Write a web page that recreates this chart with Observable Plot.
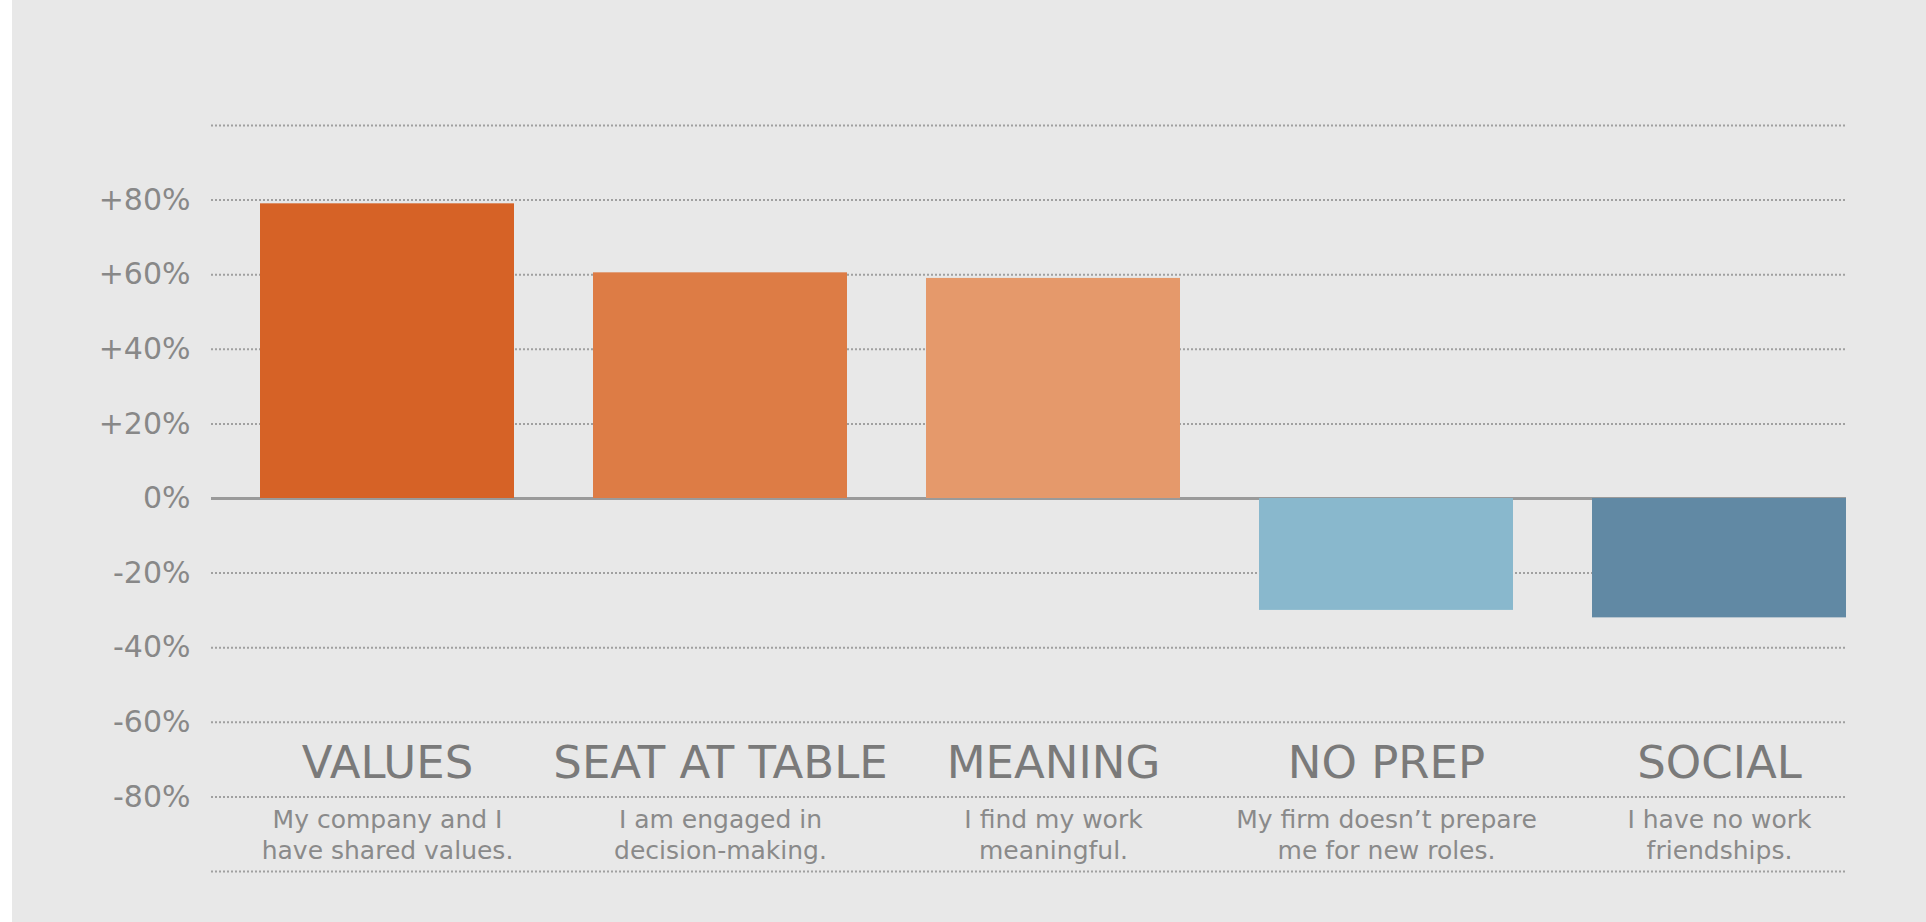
<!DOCTYPE html>
<html>
<head>
<meta charset="utf-8">
<script src="https://cdn.jsdelivr.net/npm/d3@7"></script>
<script src="https://cdn.jsdelivr.net/npm/@observablehq/plot@0.6"></script>
<style>
  html, body { margin: 0; padding: 0; background: #ffffff; }
  #wrap { border-left: 12px solid #ffffff; background: #e8e8e8; width: 1914px; height: 922px; overflow: hidden; }
  svg { display: block; }
</style>
</head>
<body>
<div id="wrap"></div>
<script>
const categories = ["VALUES", "SEAT AT TABLE", "MEANING", "NO PREP", "SOCIAL"];
const descriptions = [
  "My company and I\nhave shared values.",
  "I am engaged in\ndecision-making.",
  "I find my work\nmeaningful.",
  "My firm doesn’t prepare\nme for new roles.",
  "I have no work\nfriendships."
];
const values = [79, 60.5, 59, -30, -32];
const colors = ["#d66226", "#dd7c45", "#e5996b", "#89b8cd", "#6189a4"];
const yTicks = [-80, -60, -40, -20, 0, 20, 40, 60, 80];
const gridLines = [-100, -80, -60, -40, -20, 20, 40, 60, 80, 100];

const data = categories.map((c, i) => ({category: c, description: descriptions[i], value: values[i], color: colors[i]}));

const chart = Plot.plot({
  width: 1914,
  height: 922,
  marginTop: 125,
  marginBottom: 51,
  marginLeft: 199,
  marginRight: 80,
  style: {background: "#e8e8e8", fontFamily: "'DejaVu Sans', sans-serif", overflow: "visible"},
  x: {domain: categories, paddingInner: 0.237, paddingOuter: 0.0705, align: 1, axis: null},
  y: {domain: [-100, 100], axis: null},
  marks: [
    Plot.ruleY(gridLines, {stroke: "#a0a0a0", strokeWidth: 2, strokeDasharray: "2,2"}),
    Plot.ruleY([0], {stroke: "#9a9a9a", strokeWidth: 3}),
    Plot.barY(data, {x: "category", y: "value", fill: "color"}),
    Plot.axisY({ticks: yTicks, label: null, tickSize: 0, tickPadding: 21, fontSize: 30, fill: "#888888",
      tickFormat: d => (d > 0 ? "+" : "") + d + "%"}),
    Plot.text(data, {x: "category", text: "category", frameAnchor: "bottom", lineAnchor: "bottom", dy: -94,
      fontSize: 45, fill: "#7a7a7a"}),
    Plot.text(data, {x: "category", text: "description", frameAnchor: "bottom", lineAnchor: "bottom", dy: -13,
      fontSize: 25, lineHeight: 1.24, fill: "#8a8a8a"})
  ]
});
document.getElementById("wrap").appendChild(chart);
</script>
</body>
</html>
